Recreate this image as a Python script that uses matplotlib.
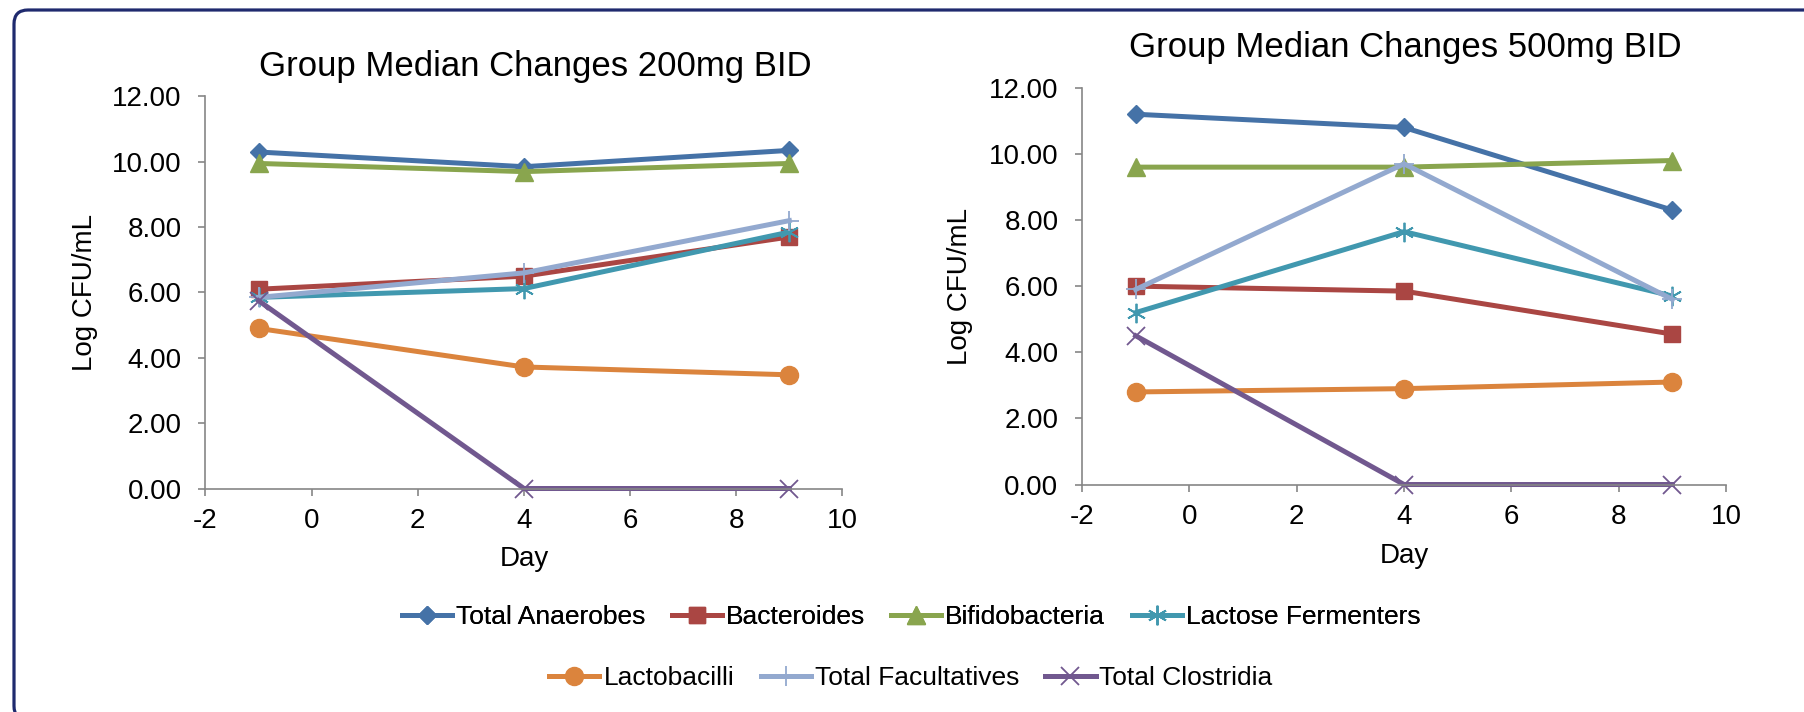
import numpy as np
import matplotlib.pyplot as plt
from matplotlib.patches import FancyBboxPatch
from matplotlib.transforms import IdentityTransform
from matplotlib.ticker import FormatStrFormatter

plt.rcParams['font.family'] = ['Liberation Sans', 'DejaVu Sans']
plt.rcParams['axes.unicode_minus'] = False

days = [-1, 4, 9]
series = ['Total Anaerobes', 'Bacteroides', 'Bifidobacteria', 'Lactose Fermenters',
          'Lactobacilli', 'Total Facultatives', 'Total Clostridia']

# group medians, log CFU/mL
dose200 = {
    'Total Anaerobes': [10.30, 9.85, 10.35],
    'Bacteroides': [6.10, 6.50, 7.70],
    'Bifidobacteria': [9.95, 9.70, 9.95],
    'Lactose Fermenters': [5.85, 6.12, 7.85],
    'Lactobacilli': [4.90, 3.72, 3.48],
    'Total Facultatives': [5.85, 6.60, 8.20],
    'Total Clostridia': [5.75, 0.00, 0.00],
}
dose500 = {
    'Total Anaerobes': [11.20, 10.80, 8.30],
    'Bacteroides': [6.00, 5.85, 4.55],
    'Bifidobacteria': [9.60, 9.60, 9.80],
    'Lactose Fermenters': [5.20, 7.65, 5.70],
    'Lactobacilli': [2.80, 2.90, 3.10],
    'Total Facultatives': [5.90, 9.70, 5.60],
    'Total Clostridia': [4.50, 0.00, 0.00],
}

colors = ['#4572A7', '#AA4643', '#89A54E', '#4198AF', '#DB843D', '#93A9CF', '#71588F']
markers = ['D', 's', '^', (6, 2, 0), 'o', '+', 'x']
msizes = [9.5, 11, 13, 14, 13, 15, 13]
mews = [1, 1, 1, 1.3, 1, 1.3, 1.3]

fig = plt.figure(figsize=(18.04, 7.12), dpi=100)

# rounded frame around the whole chart (runs off the right and bottom edges)
frame = FancyBboxPatch((14, -8), 1900, 710,
                       boxstyle='round,pad=0,rounding_size=14',
                       transform=IdentityTransform(), fill=False,
                       edgecolor='#1F2A6E', linewidth=2.3, zorder=0)
fig.patches.append(frame)

spine_col = '#868686'


def draw_panel(ax, data):
    handles = []
    for name, c, m, ms, mew in zip(series, colors, markers, msizes, mews):
        h, = ax.plot(days, data[name], color=c, lw=3.6, marker=m, ms=ms,
                     mfc=c, mec=c, mew=mew, label=name, clip_on=False,
                     solid_joinstyle='round')
        handles.append(h)
    ax.set_xlim(-2, 10)
    ax.set_ylim(0, 12)
    ax.set_xticks(np.arange(-2, 11, 2))
    ax.set_yticks(np.arange(0, 13, 2))
    ax.yaxis.set_major_formatter(FormatStrFormatter('%.2f'))
    for s in ['top', 'right']:
        ax.spines[s].set_visible(False)
    for s in ['left', 'bottom']:
        ax.spines[s].set_color(spine_col)
        ax.spines[s].set_linewidth(1.2)
    ax.tick_params(axis='both', direction='out', length=5, width=1.2,
                   color=spine_col, labelsize=20, labelcolor='black')
    ax.tick_params(axis='y', pad=12)
    ax.tick_params(axis='x', pad=9)
    ax.set_ylabel('Log CFU/mL', fontsize=20)
    ax.set_xlabel('Day', fontsize=20)
    ax.yaxis.set_label_coords(-0.189, 0.5)
    ax.xaxis.set_label_coords(0.5, -0.18)
    ax.xaxis.label.set_va('center')
    ax.yaxis.label.set_va('center')
    return handles


ax1 = fig.add_axes([0.1139, 0.3139, 0.3531, 0.5506])
ax2 = fig.add_axes([0.5998, 0.3195, 0.3570, 0.5572])
handles = draw_panel(ax1, dose200)
draw_panel(ax2, dose500)

fig.text(0.2966, 0.8933, 'Group Median Changes 200mg BID', fontsize=25,
         ha='center', va='baseline')
fig.text(0.7788, 0.920, 'Group Median Changes 500mg BID', fontsize=25,
         ha='center', va='baseline')

leg_kw = dict(frameon=False, fontsize=19, handlelength=1.9, handletextpad=0.15,
              columnspacing=1.0, borderaxespad=0, loc='center')
leg1 = fig.legend(handles[:4], series[:4], ncol=4,
                  bbox_to_anchor=(0.505, 0.1334), **leg_kw)
fig.add_artist(leg1)
fig.legend(handles[4:], series[4:], ncol=3,
           bbox_to_anchor=(0.505, 0.0478), **leg_kw)

fig.savefig('out.png', dpi=100)
